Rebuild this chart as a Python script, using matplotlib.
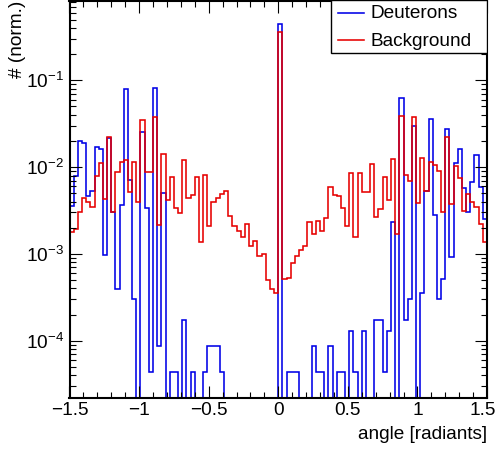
import numpy as np
import matplotlib
matplotlib.use("Agg")
import matplotlib.pyplot as plt
from matplotlib.ticker import FixedLocator, FixedFormatter, LogLocator, MultipleLocator, NullFormatter
from matplotlib.lines import Line2D
from matplotlib.patches import Rectangle
from matplotlib.transforms import ScaledTranslation

plt.rcParams['font.family'] = ['Liberation Sans', 'DejaVu Sans']
plt.rcParams['mathtext.fontset'] = 'custom'
plt.rcParams['mathtext.rm'] = 'Liberation Sans'
plt.rcParams['mathtext.it'] = 'Liberation Sans:italic'
plt.rcParams['mathtext.bf'] = 'Liberation Sans:bold'

# ---- data (normalised bin contents, 100 bins from -1.5 to 1.5) ----
x_min, x_max, n_bins = -1.5, 1.5, 100

deuterons = [
    3.6e-3, 7.9e-3, 2.01e-2, 1.91e-2, 4.6e-3, 5.3e-3, 1.69e-2, 1.63e-2, 9.6e-4, 2.15e-2,
    3.0e-3, 3.9e-4, 3.7e-3, 7.87e-2, 7.1e-3, 3.05e-4, 0, 2.52e-2, 3.35e-3, 4.35e-5,
    8.1e-2, 8.7e-5, 5.0e-3, 0, 4.35e-5, 4.35e-5, 0, 1.74e-4, 0, 4.35e-5,
    0, 0, 4.35e-5, 8.7e-5, 8.7e-5, 8.7e-5, 4.35e-5, 0, 0, 0,
    0, 0, 0, 0, 0, 0, 0, 0, 0, 0,
    0.446, 0, 4.35e-5, 4.35e-5, 4.35e-5, 0, 0, 0, 8.7e-5, 4.35e-5,
    4.35e-5, 0, 8.7e-5, 0, 4.35e-5, 4.35e-5, 0, 1.3e-4, 4.35e-5, 0,
    1.3e-4, 0, 0, 1.74e-4, 1.74e-4, 4.35e-5, 1.3e-4, 2.35e-3, 0, 6.2e-2,
    1.74e-4, 3.05e-4, 2.97e-2, 0, 3.5e-4, 5.35e-3, 3.61e-2, 2.78e-3, 3.05e-4, 5.2e-4,
    2.77e-2, 9.3e-4, 1.125e-2, 1.63e-2, 5.7e-3, 3.0e-3, 6.8e-3, 1.36e-2, 5.85e-3, 2.5e-3,
]

background = [
    1.80e-3, 1.92e-3, 3.06e-3, 4.37e-3, 4.0e-3, 3.5e-3, 7.96e-3, 1.10e-2, 4.25e-3, 2.20e-2,
    3.06e-3, 8.85e-3, 1.135e-2, 1.21e-2, 5.16e-3, 1.135e-2, 4.0e-3, 3.49e-2, 8.85e-3, 8.85e-3,
    3.81e-2, 2.15e-3, 1.416e-2, 4.18e-3, 7.62e-3, 3.35e-3, 2.99e-3, 1.21e-2, 4.45e-3, 4.78e-3,
    7.75e-3, 1.38e-3, 8.2e-3, 2.11e-3, 3.93e-3, 4.37e-3, 4.9e-3, 5.35e-3, 2.75e-3, 2.11e-3,
    1.84e-3, 1.58e-3, 2.21e-3, 1.24e-3, 1.42e-3, 9.5e-4, 9.98e-4, 5.0e-4, 3.94e-4, 3.5e-4,
    0.363, 5.14e-4, 5.27e-4, 7.8e-4, 9.5e-4, 1.11e-3, 1.24e-3, 2.35e-3, 1.69e-3, 2.41e-3,
    1.85e-3, 2.57e-3, 5.94e-3, 4.78e-3, 4.69e-3, 3.35e-3, 2.11e-3, 8.6e-3, 1.55e-3, 8.63e-3,
    5.13e-3, 5.21e-3, 1.094e-2, 2.64e-3, 3.32e-3, 7.75e-3, 4.18e-3, 1.23e-2, 1.69e-3, 3.91e-2,
    8.04e-3, 6.97e-3, 3.81e-2, 3.83e-3, 1.26e-2, 5.31e-3, 1.146e-2, 1.05e-2, 9.0e-3, 3.06e-3,
    2.20e-2, 3.76e-3, 1.03e-2, 7.43e-3, 3.15e-3, 4.9e-3, 4.0e-3, 3.5e-3, 2.21e-3, 1.38e-3,
]

series_labels = ["Deuterons", "Background"]
series_colors = ["#0000e6", "#e60000"]
x_tick_values = [-1.5, -1.0, -0.5, 0.0, 0.5, 1.0, 1.5]
x_tick_labels = ["\u22121.5", "\u22121", "\u22120.5", "0", "0.5", "1", "1.5"]
x_title = "angle [radiants]"
y_title = "# (norm.)"
y_range = (2.17e-5, 0.83)

# ---- figure ----
W, H = 498, 451
fig = plt.figure(figsize=(W / 100, H / 100), dpi=100)
ax_l, ax_r, ax_t, ax_b = 69.5, 487.0, 0.5, 398.3
ax = fig.add_axes([ax_l / W, 1 - ax_b / H, (ax_r - ax_l) / W, (ax_b - ax_t) / H])

edges = np.linspace(x_min, x_max, n_bins + 1)
floor = 1e-12
for vals, col in zip([deuterons, background], series_colors):
    v = np.asarray(vals, dtype=float)
    v = np.where(v > 0, v, floor)
    ax.stairs(v, edges, color=col, lw=1.15, baseline=None)

ax.set_yscale('log')
ax.set_xlim(x_min, x_max)
ax.set_ylim(*y_range)

ax.xaxis.set_major_locator(FixedLocator(x_tick_values))
ax.xaxis.set_major_formatter(FixedFormatter(x_tick_labels))
ax.xaxis.set_minor_locator(MultipleLocator(0.1))
ax.yaxis.set_major_locator(LogLocator(base=10, numticks=20))
ax.yaxis.set_minor_locator(LogLocator(base=10, subs=np.arange(2, 10), numticks=20))
ax.yaxis.set_minor_formatter(NullFormatter())

fs = 13.7
ax.tick_params(which='both', direction='in', top=True, right=True, colors='black', width=0.8)
ax.tick_params(which='major', length=8.6)
ax.tick_params(which='minor', length=4.5)
ax.tick_params(axis='x', which='major', labelsize=fs, pad=3)
ax.tick_params(axis='y', which='major', labelsize=fs, pad=4)
for s in ax.spines.values():
    s.set_linewidth(1.5)

# keep the last x label inside the canvas, as in the reference
fig.canvas.draw()
last = ax.xaxis.get_majorticklabels()[-1]
last.set_transform(last.get_transform() + ScaledTranslation(-4 / 100, 0, fig.dpi_scale_trans))

# axis titles (ROOT style: at the end of the axes)
fig.text(ax_r / W, 1 - 439.3 / H, x_title, ha='right', va='baseline', fontsize=fs)
fig.text(18 / W, 1 - 0.5 / H, y_title, rotation=90, ha='center', va='top', fontsize=fs)

# legend box
lx0 = (330.7 - ax_l) / (ax_r - ax_l)
lyb = (ax_b - 52.7) / (ax_b - ax_t)
ax.add_patch(Rectangle((lx0, lyb), 1 - lx0, 1 - lyb, transform=ax.transAxes,
                       facecolor='white', edgecolor='black', lw=1.0, zorder=5))
hx0 = (337.7 - ax_l) / (ax_r - ax_l)
hx1 = (364.3 - ax_l) / (ax_r - ax_l)
tx = (370.0 - ax_l) / (ax_r - ax_l)
for lab, col, yline, ybase in zip(series_labels, series_colors, [12.7, 40.0], [18.3, 45.7]):
    yl = (ax_b - yline) / (ax_b - ax_t)
    yb = (ax_b - ybase) / (ax_b - ax_t)
    ax.add_line(Line2D([hx0, hx1], [yl, yl], transform=ax.transAxes, color=col, lw=1.15, zorder=6))
    ax.text(tx, yb, lab, transform=ax.transAxes, ha='left', va='baseline', fontsize=fs, zorder=6)

fig.savefig("out.png", dpi=100)
